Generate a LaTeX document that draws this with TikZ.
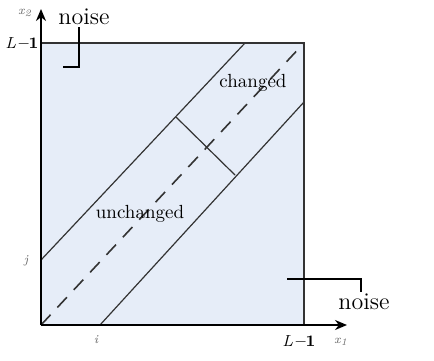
\documentclass[tikz,border=0pt]{standalone}
\usepackage{tikz}
\usetikzlibrary{
  arrows.meta,
  positioning,
  calc
}
\definecolor{dgfill}{HTML}{E6EDF8}
\definecolor{dgline}{HTML}{333333}
\definecolor{dggray}{HTML}{666666}

\begin{document}
\begin{tikzpicture}[
      x=0.5pt, y=-0.5pt,
      axis/.style={-{Stealth[length=6pt, width=5pt]}, line width=1.1pt, black},
      band/.style={line width=0.6pt, dgline},
      diag/.style={line width=0.8pt, dgline, dash pattern=on 7pt off 5pt},
      brk/.style={line width=0.7pt, black},
      lbl/.style={font=\fontsize{9.5}{11}\selectfont, inner sep=1pt},
      tick/.style={font=\fontsize{6}{7}\selectfont\itshape\color{dggray}, inner sep=1pt},
      lone/.style={font=\fontsize{8}{9}\selectfont, inner sep=1pt}
    ]
      \useasboundingbox (0,0) rectangle (434,360);

      % Corners of the region
      \coordinate (o) at (41,325);
      \coordinate (tl) at (41,43);
      \coordinate (tr) at (304,43);
      \coordinate (br) at (304,325);
      \coordinate (xend) at (347,325);
      \coordinate (yend) at (41,9);

      % Region
      \fill[dgfill] (o) rectangle (tr);
      \draw[band, line width=0.9pt] (tl) -- (tr) -- (br);

      % Band edges
      \coordinate (jpt) at (41,260);
      \coordinate (up) at (245,43);
      \coordinate (ipt) at (100,325);
      \coordinate (rt) at (304,102);
      \draw[band] (jpt) -- (up);
      \draw[band] (ipt) -- (rt);
      \draw[diag] (o) -- (tr);

      % Cut across the band
      \coordinate (cuta) at (176,117);
      \coordinate (cutb) at (235,175);
      \draw[band] (cuta) -- (cutb);

      % Axes
      \draw[axis] (o) -- (xend);
      \draw[axis] (o) -- (yend);

      % Axis labels
      \node[tick] (xl) at (341,342) {x\textsubscript{1}};
      \node[tick] (yl) at (25,13) {x\textsubscript{2}};
      \node[tick] (il) at (96,340) {i};
      \node[tick] (jl) at (26,261) {j};
      \node[lone] (lx) at (299,341) {\textit{L}\,\textbf{--1}};
      \node[lone] (ly) at (22,43) {\textit{L}\,\textbf{--1}};

      % Region labels
      \node[lbl] (chg) at (253,83) {changed};
      \node[lbl] (unchg) at (140,214) {unchanged};

      % Noise markers
      \node[lbl, font=\fontsize{12}{14}\selectfont] (noisea) at (84,17) {noise};
      \node[lbl, font=\fontsize{12}{14}\selectfont] (noiseb) at (364,302) {noise};
      \coordinate (na) at (79,67);
      \coordinate (nb) at (361,279);
      \draw[brk] (noisea.south -| na) -- (na) -- ++(-16,0);
      \draw[brk] (noiseb.north -| nb) -- (nb) -- ++(-74,0);
    \end{tikzpicture}
\end{document}
